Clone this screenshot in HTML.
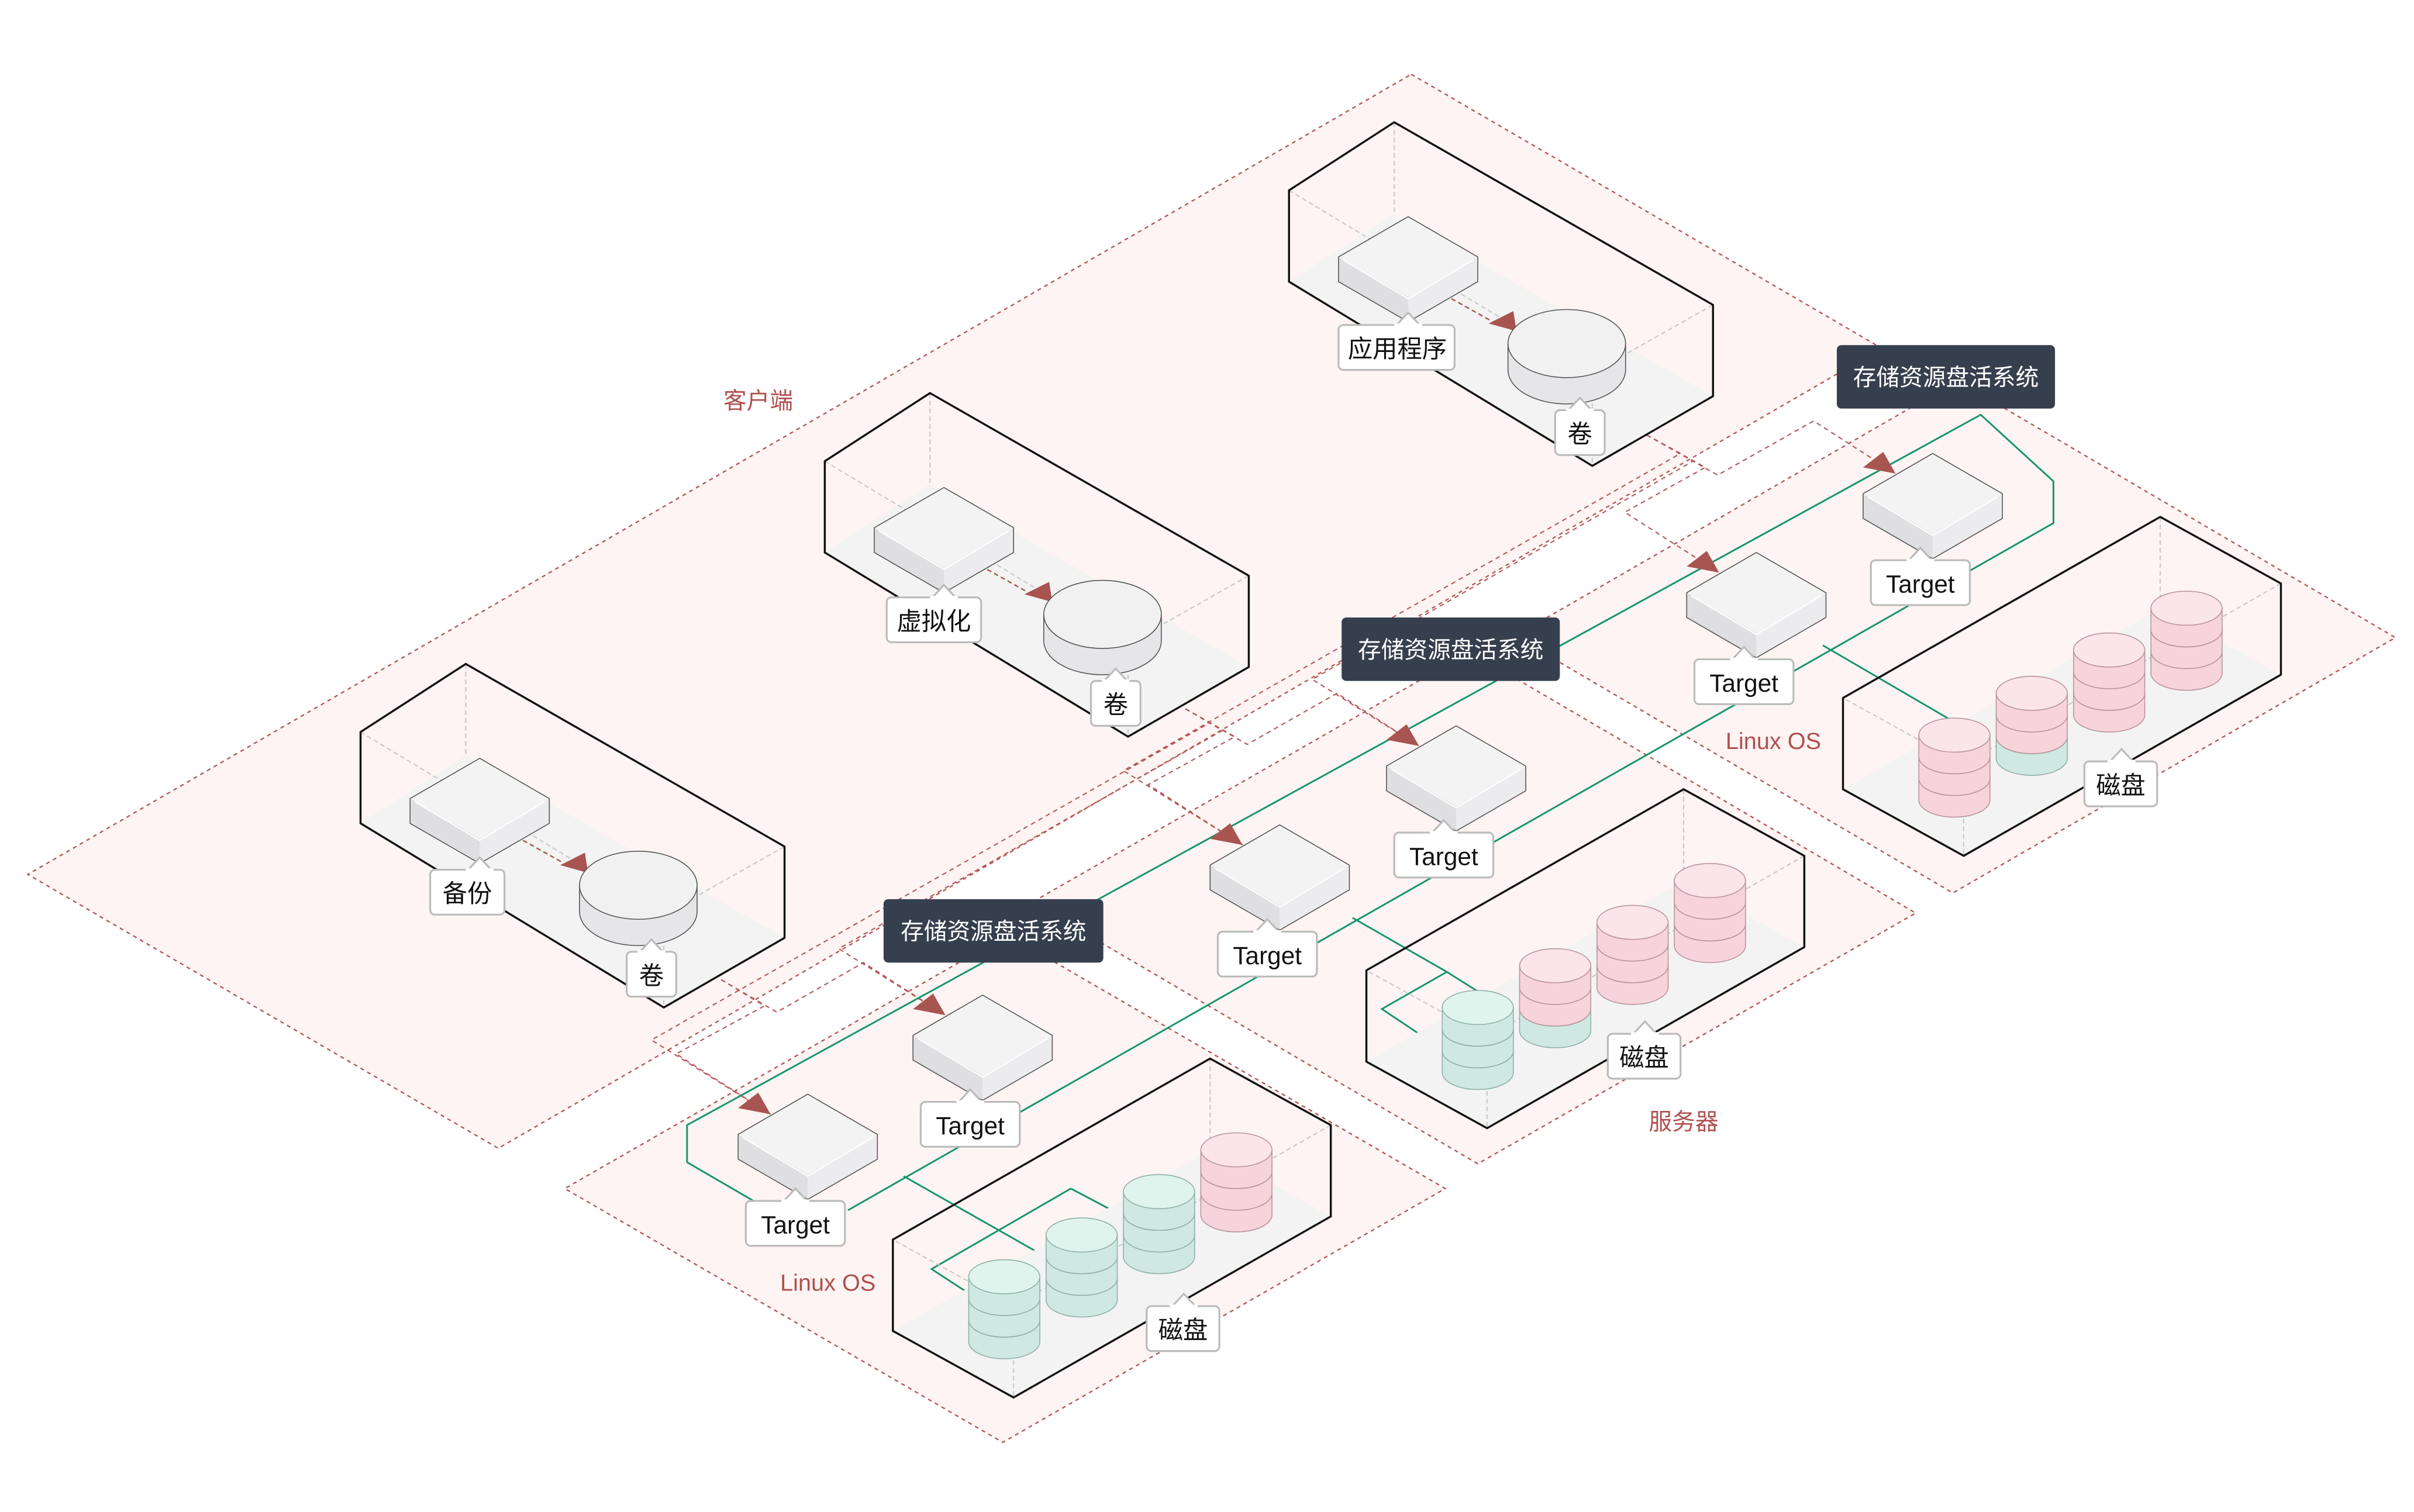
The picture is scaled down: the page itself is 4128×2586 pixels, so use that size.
<!DOCTYPE html>
<html><head><meta charset="utf-8"><style>
html,body{margin:0;padding:0;background:#fff;}
svg{display:block;}
text{font-family:"Liberation Sans","Noto Sans CJK SC",sans-serif;}
</style></head><body>
<svg xmlns="http://www.w3.org/2000/svg" xmlns:xlink="http://www.w3.org/1999/xlink" width="4128" height="2586" viewBox="0 0 1560 977" preserveAspectRatio="none">
<defs>
<g id="cube">
<path d="M0,0 L45,26 L0,52 L-45,26Z" fill="#f3f3f3"/>
<path d="M-45,26 L0,52 L0,68 L-45,42Z" fill="#dfdfe1"/>
<path d="M45,26 L0,52 L0,68 L45,42Z" fill="#ececee"/>
<path d="M0,0 L45,26 L45,42 L0,68 L-45,42 L-45,26Z" fill="none" stroke="#555" stroke-width="0.6" stroke-linejoin="round"/>
<path d="M-42,28 L0,53 L42,28" fill="none" stroke="#fff" stroke-width="0.8"/>
</g>
<g id="tcube">
<use xlink:href="#cube"/>
<polygon points="-45,9 -32,-1 -24,13" fill="#a85552"/>
<rect x="-40" y="69" width="64" height="29" rx="3" fill="#fff" stroke="#bbb" stroke-width="1.2"/>
<polygon points="-16,69.6 -8,61 0,69.6" fill="#fff" stroke="#bbb" stroke-width="1.2"/>
<rect x="-17" y="68" width="18" height="3" fill="#fff"/>
<text x="-8" y="90" font-size="16" text-anchor="middle" fill="#111">Target</text>
</g>
<g id="pk"><path d="M-23,0 v14 a23,11 0 0 0 46,0 v-14" fill="#f7d3dc" stroke="#b8949d" stroke-width="0.6"/><ellipse cx="0" cy="0" rx="23" ry="11" fill="#fbe4ea" stroke="#b8949d" stroke-width="0.6"/></g>
<g id="gr"><path d="M-23,0 v14 a23,11 0 0 0 46,0 v-14" fill="#cfe8e1" stroke="#8fb0a7" stroke-width="0.6"/><ellipse cx="0" cy="0" rx="23" ry="11" fill="#e0f4ee" stroke="#8fb0a7" stroke-width="0.6"/></g>
<g id="sG"><use xlink:href="#gr" y="28"/><use xlink:href="#gr" y="14"/><use xlink:href="#gr"/></g>
<g id="sP"><use xlink:href="#pk" y="28"/><use xlink:href="#pk" y="14"/><use xlink:href="#pk"/></g>
<g id="sM"><use xlink:href="#gr" y="28"/><use xlink:href="#pk" y="14"/><use xlink:href="#pk"/></g>
<!-- client box, origin at back-top vertex -->
<g id="cbox">
<polygon points="-68,103 0,59 206,177 128,222" fill="#f3f3f3"/>
<path d="M0,0 V59 M-68,44 L128,162 L206,118 M128,162 V222" fill="none" stroke="#c8c8c8" stroke-width="0.8" stroke-dasharray="3 2"/>
<polygon points="0,0 206,118 206,177 128,222 -68,103 -68,44" fill="none" stroke="#111" stroke-width="1.3" stroke-linejoin="miter"/>
<line x1="37" y1="114" x2="62" y2="128" stroke="#a85552" stroke-width="0.9" stroke-dasharray="3 2"/>
<use xlink:href="#cube" x="9" y="61"/>
<polygon points="61,130 77,122 79,135" fill="#a85552"/>
<path d="M73.5,143 v17 a38,22 0 0 0 76,0 v-17" fill="#e6e6e8" stroke="#555" stroke-width="0.6"/>
<ellipse cx="111.5" cy="143" rx="38" ry="22" fill="#f1f1f2" stroke="#555" stroke-width="0.6"/>
<rect x="104" y="186" width="32" height="29" rx="3" fill="#fff" stroke="#bbb" stroke-width="1.2"/>
<polygon points="112,186.6 120,178 128,186.6" fill="#fff" stroke="#bbb" stroke-width="1.2"/>
<rect x="111" y="185" width="18" height="3" fill="#fff"/>
<text x="120" y="207" font-size="16" text-anchor="middle" fill="#111">卷</text>
</g>
<!-- server box, origin back-top -->
<g id="sbox">
<polygon points="0,59 78,102 -127,219 -205,176" fill="#f3f3f3"/>
<path d="M0,0 V59 M78,43 L-127,160 L-205,117 M-127,160 V219" fill="none" stroke="#c8c8c8" stroke-width="0.8" stroke-dasharray="3 2"/>
<polygon points="0,0 78,43 78,102 -127,219 -205,176 -205,117" fill="none" stroke="#111" stroke-width="1.3"/>
</g>
<g id="dlab">
<rect x="-49" y="0" width="47" height="29" rx="3" fill="#fff" stroke="#bbb" stroke-width="1.2"/>
<polygon points="-33,0.6 -25,-8 -17,0.6" fill="#fff" stroke="#bbb" stroke-width="1.2"/>
<rect x="-34" y="-1" width="18" height="3" fill="#fff"/>
<text x="-25.5" y="21" font-size="16" text-anchor="middle" fill="#111">磁盘</text>
</g>
</defs>

<!-- planes -->
<g fill="#fdf4f3" stroke="#b5585a" stroke-width="0.9" stroke-dasharray="2.5 2.5">
<polygon points="912,48 1216,225 322,742 18,565"/>
<polygon points="1265,246 1548,412 1262,577 979,411"/>
<polygon points="950,421 1238,590 955,752 667,583"/>
<polygon points="651,604 934,768 648,932 365,768"/>
</g>

<!-- dashed connectors -->
<g fill="none" stroke="#b5585a" stroke-width="0.8" stroke-dasharray="3 2.5">
<polyline points="1064,281 1110,307 1172,272 1225,306"/>
<polyline points="1064,281 1102,302 1050,331 1111,370"/>
<polyline points="1064,281 1094,298 848,439 917,482"/>
<polyline points="1064,281 1086,293 726,498 803,546"/>
<polyline points="766,458 806,481 864,448 917,482"/>
<polyline points="766,458 798,476 742,507 803,546"/>
<polyline points="766,458 790,472 542,613 611,656"/>
<polyline points="766,458 782,467 421,672 498,720"/>
<polyline points="466,633 502,654 558,622 611,656"/>
<polyline points="466,633 494,650 437,681 498,720"/>
</g>

<!-- green lines -->
<g fill="none" stroke="#13956b" stroke-width="1.1">
<polyline points="487,776 444,751 444,727 1280,268 1327,311 1327,338 548,782"/>
<polyline points="874,593 935,628 962,645"/><polyline points="935,628 893,652 932,678"/>
<polyline points="584,760 679,814"/><polyline points="692,768 602,820 628,837"/><polyline points="692,768 728,787"/>
<polyline points="1178,417 1262,466"/>
</g>

<!-- client boxes -->
<use xlink:href="#cbox" x="901" y="79"/>
<use xlink:href="#cbox" x="601" y="254"/>
<use xlink:href="#cbox" x="301" y="429"/>
<g font-size="16" text-anchor="middle" fill="#111">
<g><rect x="865" y="210" width="75" height="29" rx="3" fill="#fff" stroke="#bbb" stroke-width="1.2"/><polygon points="902,210.6 910,202 918,210.6" fill="#fff" stroke="#bbb" stroke-width="1.2"/><rect x="901" y="209" width="18" height="3" fill="#fff"/><text x="903" y="231">应用程序</text></g>
<g><rect x="573" y="386" width="61" height="29" rx="3" fill="#fff" stroke="#bbb" stroke-width="1.2"/><polygon points="602,386.6 610,378 618,386.6" fill="#fff" stroke="#bbb" stroke-width="1.2"/><rect x="601" y="385" width="18" height="3" fill="#fff"/><text x="603.5" y="407">虚拟化</text></g>
<g><rect x="278" y="562" width="48" height="29" rx="3" fill="#fff" stroke="#bbb" stroke-width="1.2"/><polygon points="302,562.6 310,554 318,562.6" fill="#fff" stroke="#bbb" stroke-width="1.2"/><rect x="301" y="561" width="18" height="3" fill="#fff"/><text x="302" y="583">备份</text></g>
</g>

<!-- server boxes & disks -->
<use xlink:href="#sbox" x="1396" y="334"/>
<use xlink:href="#sP" x="1263" y="475"/><use xlink:href="#sM" x="1313" y="448"/><use xlink:href="#sP" x="1363" y="420"/><use xlink:href="#sP" x="1413" y="393"/>
<use xlink:href="#dlab" x="1396" y="492"/>
<use xlink:href="#sbox" x="1088" y="510"/>
<use xlink:href="#sG" x="955" y="651"/><use xlink:href="#sM" x="1005" y="624"/><use xlink:href="#sP" x="1055" y="596"/><use xlink:href="#sP" x="1105" y="569"/>
<use xlink:href="#dlab" x="1088" y="668"/>
<use xlink:href="#sbox" x="782" y="684"/>
<use xlink:href="#sG" x="649" y="825"/><use xlink:href="#sG" x="699" y="798"/><use xlink:href="#sG" x="749" y="770"/><use xlink:href="#sP" x="799" y="743"/>
<use xlink:href="#dlab" x="790" y="844"/>

<!-- targets -->
<use xlink:href="#tcube" x="522" y="707"/>
<use xlink:href="#tcube" x="635" y="643"/>
<use xlink:href="#tcube" x="827" y="533"/>
<use xlink:href="#tcube" x="941" y="469"/>
<use xlink:href="#tcube" x="1135" y="357"/>
<use xlink:href="#tcube" x="1249" y="293"/>

<!-- dark labels -->
<g font-size="15" fill="#fff" text-anchor="middle">
<rect x="1187" y="223" width="141" height="41" rx="3" fill="#363f4d"/><text x="1257.5" y="249">存储资源盘活系统</text>
<rect x="867" y="399" width="141" height="41" rx="3" fill="#363f4d"/><text x="937.5" y="425">存储资源盘活系统</text>
<rect x="571" y="581" width="142" height="41" rx="3" fill="#363f4d"/><text x="642" y="607">存储资源盘活系统</text>
</g>

<!-- plane labels -->
<g font-size="15" fill="#b0504f" text-anchor="middle">
<text x="490" y="264">客户端</text>
<text x="1146" y="484">Linux OS</text>
<text x="535" y="834">Linux OS</text>
<text x="1088" y="730">服务器</text>
</g>
</svg>
</body></html>
